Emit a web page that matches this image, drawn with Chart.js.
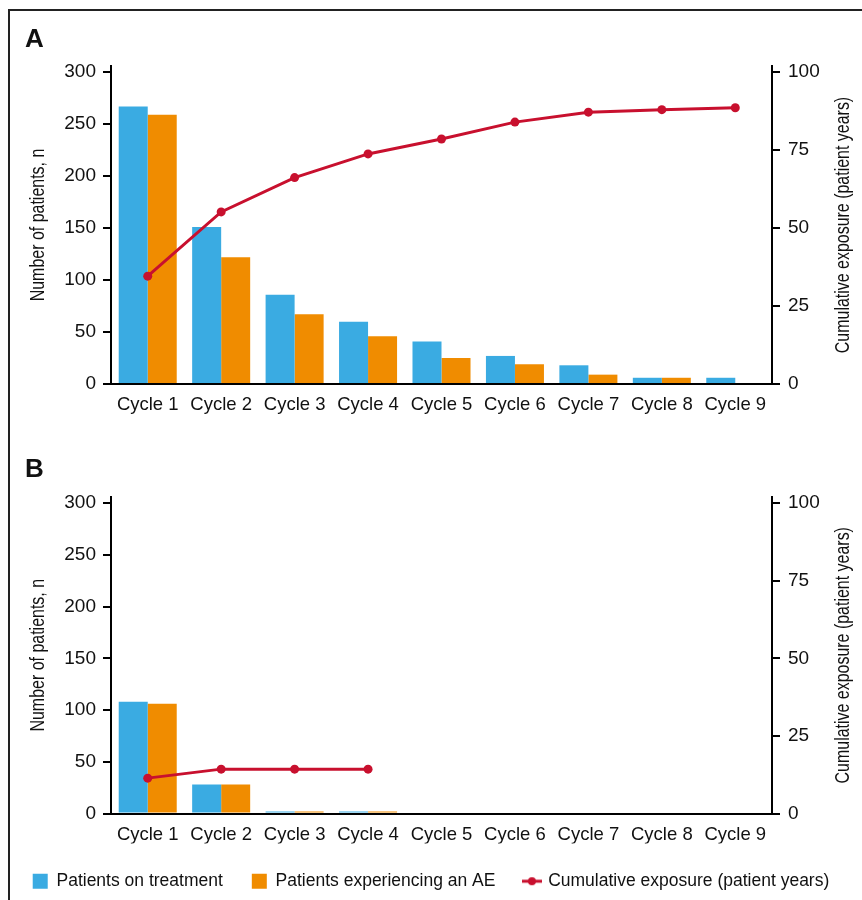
<!DOCTYPE html>
<html>
<head>
<meta charset="utf-8">
<script src="https://cdn.jsdelivr.net/npm/chart.js@4"></script>
<style>
  body { margin: 0; background: #fff; width: 862px; height: 900px; position: relative; overflow: hidden; }
  #frame { position: absolute; left: 8px; top: 9px; width: 900px; height: 950px; border-left: 2px solid #222; border-top: 2px solid #222; }
  .panel { position: absolute; left: 25px; font: bold 26px "Liberation Sans", Arial, sans-serif; line-height: 26px; color: #111; }
  canvas { position: absolute; left: 0; }
</style>
</head>
<body>
<div id="frame"></div>
<canvas id="chartA" width="862" height="430" style="top:0"></canvas>
<canvas id="chartB" width="862" height="470" style="top:430px"></canvas>
<div class="panel" style="top:25px">A</div>
<div class="panel" style="top:455px">B</div>
<script>
const cycles = ["Cycle 1", "Cycle 2", "Cycle 3", "Cycle 4", "Cycle 5", "Cycle 6", "Cycle 7", "Cycle 8", "Cycle 9"];

// panel A
const onTreatmentA = [267, 151, 86, 60, 41, 27, 18, 6, 6];
const withAeA = [259, 122, 67, 46, 25, 19, 9, 6, 0];
const exposureA = [34.6, 55.2, 66.2, 73.8, 78.6, 84.0, 87.2, 88.0, 88.6];

// panel B
const onTreatmentB = [108, 28, 2, 2, 0, 0, 0, 0, 0];
const withAeB = [106, 28, 2, 2, 0, 0, 0, 0, 0];
const exposureB = [11.4, 14.3, 14.3, 14.3, null, null, null, null, null];

const leftTicks = [0, 50, 100, 150, 200, 250, 300];
const rightTicks = [0, 25, 50, 75, 100];

const leftTitle = "Number of patients, n";
const rightTitle = "Cumulative exposure (patient years)";

const BLUE = "#3aabe2";
const ORANGE = "#f08c00";
const RED = "#c8102e";

Chart.defaults.font.family = '"Liberation Sans", Arial, sans-serif';
Chart.defaults.color = "#111";

// little line+dot icon for the legend
const lineIcon = document.createElement("canvas");
lineIcon.width = 20;
lineIcon.height = 10;
const ic = lineIcon.getContext("2d");
ic.strokeStyle = RED;
ic.lineWidth = 3;
ic.beginPath(); ic.moveTo(0, 5); ic.lineTo(20, 5); ic.stroke();
ic.fillStyle = RED;
ic.beginPath(); ic.arc(10, 5, 4, 0, Math.PI * 2); ic.fill();

// axis titles in a condensed face (squeezed Liberation Sans), both reading bottom-to-top
function drawTitle(ctx, text, x, y) {
  ctx.save();
  ctx.translate(x, y);
  ctx.rotate(-Math.PI / 2);
  ctx.scale(0.76, 1);
  ctx.font = '21px "Liberation Sans", Arial, sans-serif';
  ctx.fillStyle = "#111";
  ctx.textAlign = "center";
  ctx.textBaseline = "middle";
  ctx.fillText(text, 0, 0);
  ctx.restore();
}

const axisTitles = {
  id: "axisTitles",
  afterDraw(chart) {
    const s = chart.scales.y;
    const mid = (s.top + s.bottom) / 2;
    drawTitle(chart.ctx, leftTitle, 38, mid);
    drawTitle(chart.ctx, rightTitle, 843, mid);
  }
};

function makeChart(id, onTreat, withAe, exposure, showLegend, pad) {
  const ctx = document.getElementById(id).getContext("2d");
  return new Chart(ctx, {
    type: "bar",
    data: {
      labels: cycles,
      datasets: [
        { label: "Patients on treatment", data: onTreat, backgroundColor: BLUE, borderWidth: 0,
          barPercentage: 1, categoryPercentage: 0.79, yAxisID: "y", order: 1 },
        { label: "Patients experiencing an AE", data: withAe, backgroundColor: ORANGE, borderWidth: 0,
          barPercentage: 1, categoryPercentage: 0.79, yAxisID: "y", order: 1 },
        { type: "line", label: "Cumulative exposure (patient years)", data: exposure, yAxisID: "y1",
          borderColor: RED, backgroundColor: RED, borderWidth: 3, pointRadius: 4.5,
          pointBackgroundColor: RED, pointBorderWidth: 0, tension: 0, order: 0 }
      ]
    },
    options: {
      responsive: false,
      animation: false,
      layout: { padding: pad },
      plugins: {
        tooltip: { enabled: false },
        legend: {
          display: showLegend,
          position: "bottom",
          labels: {
            usePointStyle: true,
            boxWidth: 15,
            boxHeight: 15,
            padding: 29,
            font: { size: 17.5 },
            color: "#111",
            sort: (a, b) => a.datasetIndex - b.datasetIndex,
            generateLabels(chart) {
              const items = Chart.defaults.plugins.legend.labels.generateLabels(chart);
              items.forEach(it => {
                it.pointStyle = it.datasetIndex === 2 ? lineIcon : "rect";
                it.lineWidth = 0;
              });
              return items;
            }
          }
        }
      },
      scales: {
        x: {
          grid: { display: false, drawTicks: false },
          border: { display: true, color: "#000", width: 2 },
          ticks: { font: { size: 18.5 }, padding: 10, maxRotation: 0, autoSkip: false },
          afterFit(s) { s.height = 30; }
        },
        y: {
          position: "left",
          min: 0,
          max: 306,
          afterBuildTicks(s) { s.ticks = leftTicks.map(v => ({ value: v })); },
          ticks: { font: { size: 19 }, padding: 7 },
          grid: { drawOnChartArea: false, color: "#000", lineWidth: 2, tickLength: 8 },
          border: { color: "#000", width: 2 },
          afterFit(s) { s.width = 111; }
        },
        y1: {
          position: "right",
          min: 0,
          max: 102,
          afterBuildTicks(s) { s.ticks = rightTicks.map(v => ({ value: v })); },
          ticks: { font: { size: 19 }, padding: 8 },
          grid: { drawOnChartArea: false, color: "#000", lineWidth: 2, tickLength: 8 },
          border: { color: "#000", width: 2 },
          afterFit(s) { s.width = 90; }
        }
      }
    },
    plugins: [axisTitles]
  });
}

makeChart("chartA", onTreatmentA, withAeA, exposureA, false, { top: 66, bottom: 16, left: 0, right: 0 });
makeChart("chartB", onTreatmentB, withAeB, exposureB, true, { top: 67, bottom: 0, left: 0, right: 0 });
</script>
</body>
</html>
